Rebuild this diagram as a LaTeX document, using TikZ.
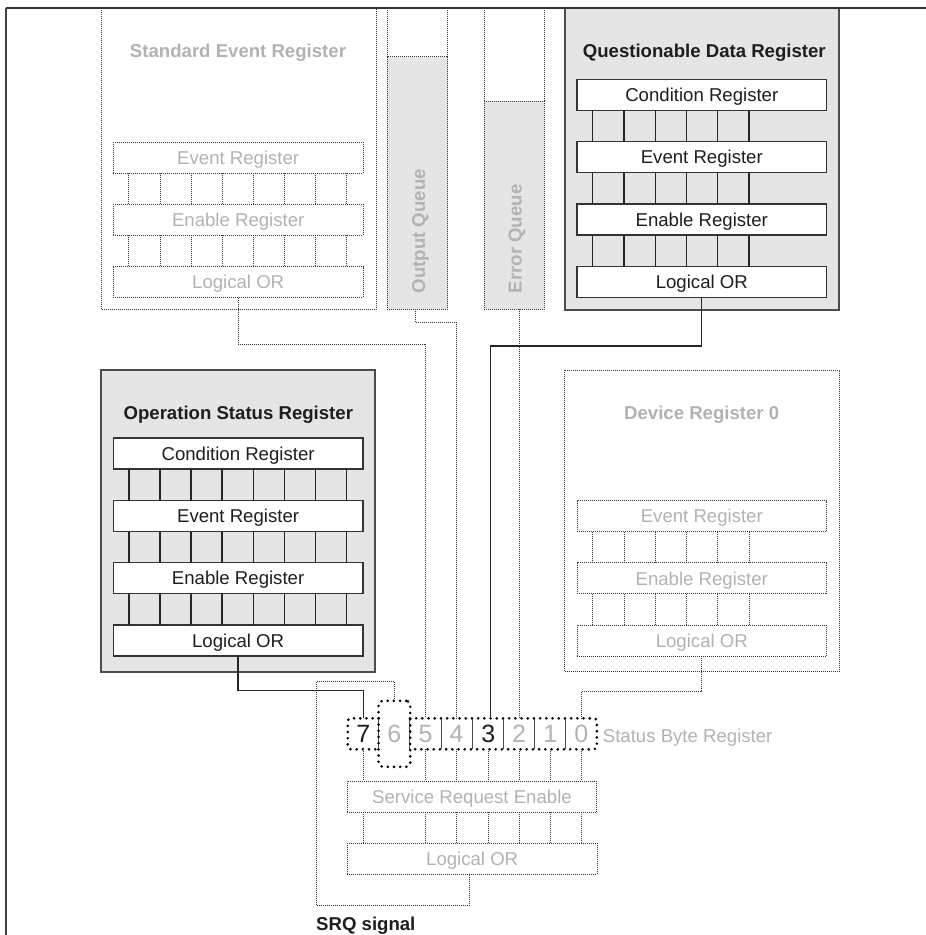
\documentclass[tikz,border=0pt]{standalone}
\usepackage{fontspec}
\setmainfont{Liberation Sans}
\usetikzlibrary{calc}
\definecolor{lgtext}{RGB}{178,178,178}
\definecolor{dktext}{RGB}{30,30,30}
\definecolor{boxfill}{RGB}{229,229,229}
\tikzset{
 every node/.style={font=\fontsize{18.6}{22}\selectfont},
 finedots/.style={draw=black!80, line width=0.8pt, dash pattern=on 0.8pt off 1.2pt},
 solidline/.style={draw=black!85, line width=1.3pt},
 graybox/.style={draw=black!70, line width=1.8pt, fill=boxfill},
 ibox/.style={draw=black!80, line width=1.3pt, fill=white, minimum width=249.5pt, minimum height=31pt, inner sep=0pt, outer sep=0pt, text height=13.4pt, text depth=0pt, text=dktext},
 dbox/.style={finedots, minimum width=249.5pt, minimum height=31pt, inner sep=0pt, outer sep=0pt, text height=13.4pt, text depth=0pt, text=lgtext},
 dtitle/.style={anchor=base, inner sep=0pt, font=\fontsize{18.6}{22}\selectfont\bfseries, text=dktext},
 ltitle/.style={dtitle, text=lgtext},
 queue/.style={finedots, fill=boxfill, inner sep=0pt, outer sep=0pt},
 qlabel/.style={rotate=90, anchor=base west, inner sep=0pt, font=\fontsize{18.6}{22}\selectfont\bfseries, text=lgtext},
 bit/.style={minimum width=31.1pt, minimum height=31pt, inner sep=0pt, outer sep=0pt, text height=18pt, text depth=0pt, font=\fontsize{25}{29}\selectfont, text=lgtext},
 bigdots/.style={draw=black, line width=2.9pt, line cap=round, dash pattern=on 0pt off 6.2pt},
 sep/.style={draw=black!70, line width=1pt},
}
\begin{document}
\begin{tikzpicture}[x=1pt,y=-1pt]
\useasboundingbox (0,0) rectangle (926,935);

% ---------- Standard Event Register (inactive) ----------
\draw[finedots] (101,8) -- (101,309.3) -- (376,309.3) -- (376,8);
\node[ltitle] (sert) at (238,57.3) {Standard Event Register};
\node[dbox] (s1) at (238.2,157.5) {Event Register};
\node[dbox] (s2) at (238.2,219.8) {Enable Register};
\node[dbox] (s3) at (238.2,282.2) {Logical OR};
\foreach \i in {0,...,7} {
  \draw[finedots] ($(s1.south west)+(15.4+31.1*\i,0)$) -- ($(s2.north west)+(15.4+31.1*\i,0)$);
  \draw[finedots] ($(s2.south west)+(15.4+31.1*\i,0)$) -- ($(s3.north west)+(15.4+31.1*\i,0)$);
}

% ---------- Output Queue ----------
\draw[finedots] (387.3,8) -- (387.3,56.7) (447.7,8) -- (447.7,56.7);
\node[queue, minimum width=60.4pt, minimum height=252.6pt] (oq) at (417.5,183) {};
\node[qlabel] (oql) at (425,293.3) {Output Queue};

% ---------- Error Queue ----------
\draw[finedots] (484,8) -- (484,101) (544,8) -- (544,101);
\node[queue, minimum width=60pt, minimum height=208.3pt] (eq) at (514,205.15) {};
\node[qlabel] (eql) at (521.7,293.3) {Error Queue};

% ---------- Questionable Data Register ----------
\draw[graybox] (564.7,8) rectangle (839,310);
\node[dtitle] (qt) at (704.3,57.8) {Questionable Data Register};
\node[ibox] (q1) at (701.8,94.7) {Condition Register};
\node[ibox] (q2) at (701.8,157.2) {Event Register};
\node[ibox] (q3) at (701.8,219.5) {Enable Register};
\node[ibox] (q4) at (701.8,282) {Logical OR};
\foreach \i in {0,...,5} {
  \draw[solidline] ($(q1.south west)+(15.6+31.25*\i,0)$) -- ($(q2.north west)+(15.6+31.25*\i,0)$);
  \draw[solidline] ($(q2.south west)+(15.6+31.25*\i,0)$) -- ($(q3.north west)+(15.6+31.25*\i,0)$);
  \draw[solidline] ($(q3.south west)+(15.6+31.25*\i,0)$) -- ($(q4.north west)+(15.6+31.25*\i,0)$);
}

% ---------- Operation Status Register ----------
\draw[graybox] (100.7,370) rectangle (375,671.7);
\node[dtitle] (ot) at (238.3,419) {Operation Status Register};
\node[ibox] (o1) at (238.1,453.5) {Condition Register};
\node[ibox] (o2) at (238.1,516) {Event Register};
\node[ibox] (o3) at (238.1,578) {Enable Register};
\node[ibox] (o4) at (238.1,640.5) {Logical OR};
\foreach \i in {0,...,7} {
  \draw[solidline] ($(o1.south west)+(15.6+31.05*\i,0)$) -- ($(o2.north west)+(15.6+31.05*\i,0)$);
  \draw[solidline] ($(o2.south west)+(15.6+31.05*\i,0)$) -- ($(o3.north west)+(15.6+31.05*\i,0)$);
  \draw[solidline] ($(o3.south west)+(15.6+31.05*\i,0)$) -- ($(o4.north west)+(15.6+31.05*\i,0)$);
}

% ---------- Device Register 0 (inactive) ----------
\draw[finedots] (564.7,370) rectangle (839.3,671.7);
\node[ltitle] (dt) at (701.7,419) {Device Register 0};
\node[dbox] (d1) at (701.8,516.2) {Event Register};
\node[dbox] (d2) at (701.8,578.3) {Enable Register};
\node[dbox] (d3) at (701.8,640.8) {Logical OR};
\foreach \i in {0,...,5} {
  \draw[finedots] ($(d1.south west)+(15.6+31.25*\i,0)$) -- ($(d2.north west)+(15.6+31.25*\i,0)$);
  \draw[finedots] ($(d2.south west)+(15.6+31.25*\i,0)$) -- ($(d3.north west)+(15.6+31.25*\i,0)$);
}

% ---------- Status Byte Register ----------
\node[bit, text=dktext] (b7) at (363.3,733.8) {7};
\node[bit] (b6) at (394.4,733.8) {6};
\node[bit] (b5) at (425.5,733.8) {5};
\node[bit] (b4) at (456.6,733.8) {4};
\node[bit, text=dktext] (b3) at (488.4,733.8) {3};
\node[bit] (b2) at (519.1,733.8) {2};
\node[bit] (b1) at (550.2,733.8) {1};
\node[bit] (b0) at (581.3,733.8) {0};
\foreach \b in {b7,b6,b5,b4,b3,b2,b1} {
  \draw[sep] (\b.north east) -- (\b.south east);
}
\node[bigdots, rounded corners=4pt, minimum width=31.7pt, minimum height=66pt, inner sep=0pt, outer sep=0pt] (b6box) at (b6) {};
\draw[bigdots, rounded corners=3pt] (b7.north east) -- (b7.north west) -- (b7.south west) -- (b7.south east);
\draw[bigdots, rounded corners=3pt] (b5.north west) -- (b0.north east) -- (b0.south east) -- (b5.south west);
\node[anchor=west, inner sep=0pt, text=lgtext, text height=13.4pt, text depth=0pt] (sbr) at (602.7,735.6) {Status Byte Register};

% ---------- Service Request Enable / Logical OR ----------
\node[dbox] (sre) at (472,796.5) {Service Request Enable};
\node[dbox] (srl) at (472.2,858.8) {Logical OR};
\foreach \b in {b7,b5,b4,b3,b2,b1,b0} {
  \draw[finedots] (\b.south) -- (\b.south |- sre.north);
  \draw[finedots] (\b.south |- sre.south) -- (\b.south |- srl.north);
}

% ---------- connectors into the status byte ----------
\draw[finedots] (s3.south) -- ++(0,46.6) -| (b5.north);
\draw[finedots] ([xshift=-2.5pt]oq.south) -- ++(0,13) -| (b4.north);
\draw[solidline] (q4.south) -- ++(0,48.5) -| ([xshift=2.3pt]b3.north);
\draw[finedots] (b2.north |- eq.south) -- (b2.north);
\draw[solidline] (o4.south) -- ++(0,34.7) -| (b7.north);
\draw[finedots] (d3.south) -- ++(0,34.7) -| (b0.north);

% ---------- SRQ ----------
\coordinate (srq) at (316,905.7);
\draw[finedots] (b6box.north) -- ++(0,-19) -| (srq) -| ([xshift=-3pt]srl.south);
\node[anchor=base west, inner sep=0pt, font=\fontsize{18.6}{22}\selectfont\bfseries, text=dktext] (srqt) at (316,930) {SRQ signal};

% ---------- frame ----------
\draw[black!80, line width=1.2pt] (6,8) -- (926,8);
\draw[black!75, line width=1.4pt] (6,8) -- (6,935);
\end{tikzpicture}
\end{document}
